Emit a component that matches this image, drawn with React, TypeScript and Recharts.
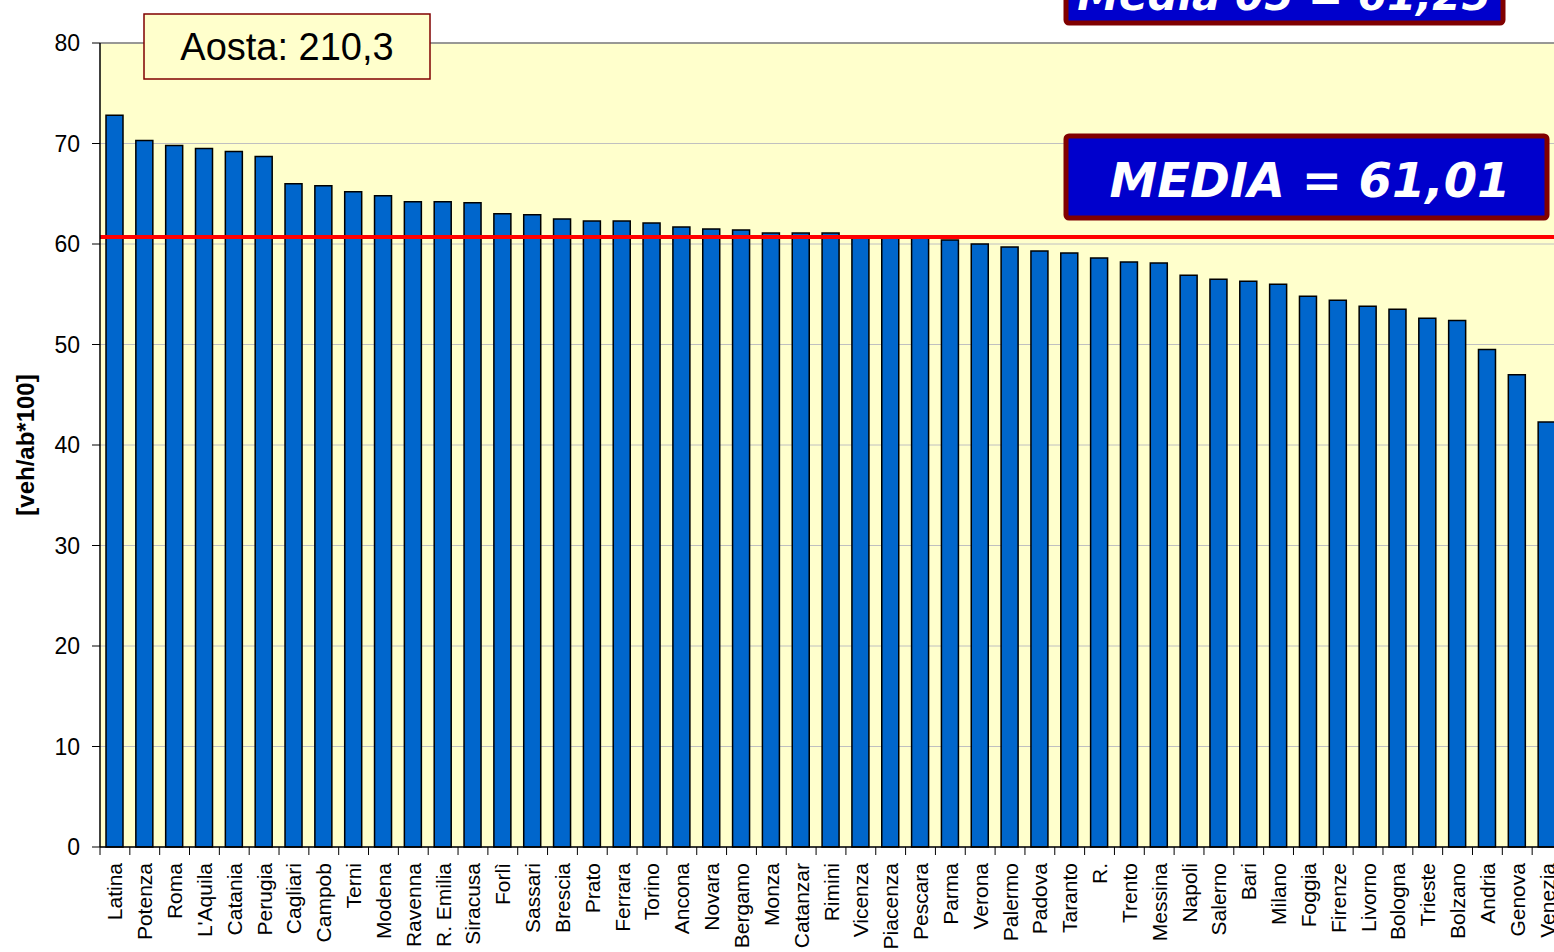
import React from "react";
import { BarChart, Bar, XAxis, YAxis, CartesianGrid, ReferenceLine } from "recharts";

const cities = [
  "Latina", "Potenza", "Roma", "L'Aquila", "Catania", "Perugia", "Cagliari", "Campob", "Terni",
  "Modena", "Ravenna", "R. Emilia", "Siracusa", "Forlì", "Sassari", "Brescia", "Prato", "Ferrara",
  "Torino", "Ancona", "Novara", "Bergamo", "Monza", "Catanzar", "Rimini", "Vicenza", "Piacenza",
  "Pescara", "Parma", "Verona", "Palermo", "Padova", "Taranto", "R.", "Trento", "Messina", "Napoli",
  "Salerno", "Bari", "Milano", "Foggia", "Firenze", "Livorno", "Bologna", "Trieste", "Bolzano",
  "Andria", "Genova", "Venezia",
];

const vehPer100 = [
  72.8, 70.3, 69.8, 69.5, 69.2, 68.7, 66.0, 65.8, 65.2,
  64.8, 64.2, 64.2, 64.1, 63.0, 62.9, 62.5, 62.3, 62.3,
  62.1, 61.7, 61.5, 61.4, 61.1, 61.1, 61.1, 60.7, 60.7,
  60.7, 60.4, 60.0, 59.7, 59.3, 59.1, 58.6, 58.2, 58.1, 56.9,
  56.5, 56.3, 56.0, 54.8, 54.4, 53.8, 53.5, 52.6, 52.4,
  49.5, 47.0, 42.3,
];

const yTicks = [0, 10, 20, 30, 40, 50, 60, 70, 80];
const mediaLine = 60.7;

const data = cities.map((name, i) => ({ name, value: vehPer100[i] }));

const FONT = "Arial, 'Liberation Sans', sans-serif";
const STEP = 1462 / cities.length;

function CityTick(props: any) {
  const { x, y, payload } = props;
  const bx = x - STEP / 2;
  return (
    <g>
      <line x1={bx} x2={bx} y1={y - 16} y2={y - 8} stroke="#000" strokeWidth={1} />
      <text
        x={x}
        y={y}
        transform={`rotate(-90, ${x}, ${y})`}
        textAnchor="end"
        dominantBaseline="central"
        fontSize={21}
        fontFamily={FONT}
        fill="#000"
      >
        {payload.value}
      </text>
    </g>
  );
}

export default function App() {
  return (
    <div style={{ position: "absolute", left: 0, top: 0, width: 1554, height: 952, overflow: "hidden", background: "#fff" }}>
      <BarChart width={1570} height={952} data={data} margin={{ top: 43, right: 8, left: 0, bottom: 0 }}>
        <CartesianGrid vertical={false} fill="#FFFFCC" stroke="#C0C0C0" />
        <XAxis
          dataKey="name"
          interval={0}
          height={105}
          axisLine={{ stroke: "#000", strokeWidth: 1.5 }}
          tickLine={false}
          tickSize={8}
          tickMargin={8}
          tick={(p: any) => <CityTick {...p} />}
        />
        <YAxis
          width={100}
          domain={[0, 80]}
          ticks={yTicks}
          interval={0}
          axisLine={{ stroke: "#000", strokeWidth: 1.5 }}
          tickLine={{ stroke: "#000" }}
          tickSize={8}
          tickMargin={12}
          tick={{ fontSize: 23, fontFamily: FONT, fill: "#000" }}
        />
        <ReferenceLine y={80} stroke="#808080" strokeWidth={1.5} />
        <Bar dataKey="value" fill="#0066CC" stroke="#000" strokeWidth={1.5} barSize={17} isAnimationActive={false} />
        <ReferenceLine y={mediaLine} stroke="#FF0000" strokeWidth={4} />
      </BarChart>
      <svg width={1554} height={952} style={{ position: "absolute", left: 0, top: 0, pointerEvents: "none" }}>
        <text
          x={25}
          y={445}
          transform="rotate(-90, 25, 445)"
          textAnchor="middle"
          dominantBaseline="central"
          fontSize={24}
          fontWeight="bold"
          fontFamily={FONT}
          fill="#000"
        >
          [veh/ab*100]
        </text>

        <rect x={144} y={14} width={286} height={65} fill="#FFFFCC" stroke="#800000" strokeWidth={1.5} />
        <text x={287} y={60} textAnchor="middle" fontSize={38} fontFamily={FONT} fill="#000">
          Aosta: 210,3
        </text>

        <rect x={1066} y={-50} width={437} height={73} rx={3} fill="#0000CC" stroke="#800000" strokeWidth={5} />
        <text
          x={1284}
          y={10}
          textAnchor="middle"
          fontSize={42}
          fontWeight="bold"
          fontStyle="italic"
          fontFamily="Verdana, 'DejaVu Sans', sans-serif"
          fill="#fff"
        >
          Media 05 = 61,25
        </text>

        <rect x={1066} y={136} width={481} height={82} rx={3} fill="#0000CC" stroke="#800000" strokeWidth={5} />
        <text
          x={1310}
          y={197}
          textAnchor="middle"
          fontSize={48}
          fontWeight="bold"
          fontStyle="italic"
          fontFamily="Verdana, 'DejaVu Sans', sans-serif"
          fill="#fff"
        >
          MEDIA = 61,01
        </text>
      </svg>
    </div>
  );
}
